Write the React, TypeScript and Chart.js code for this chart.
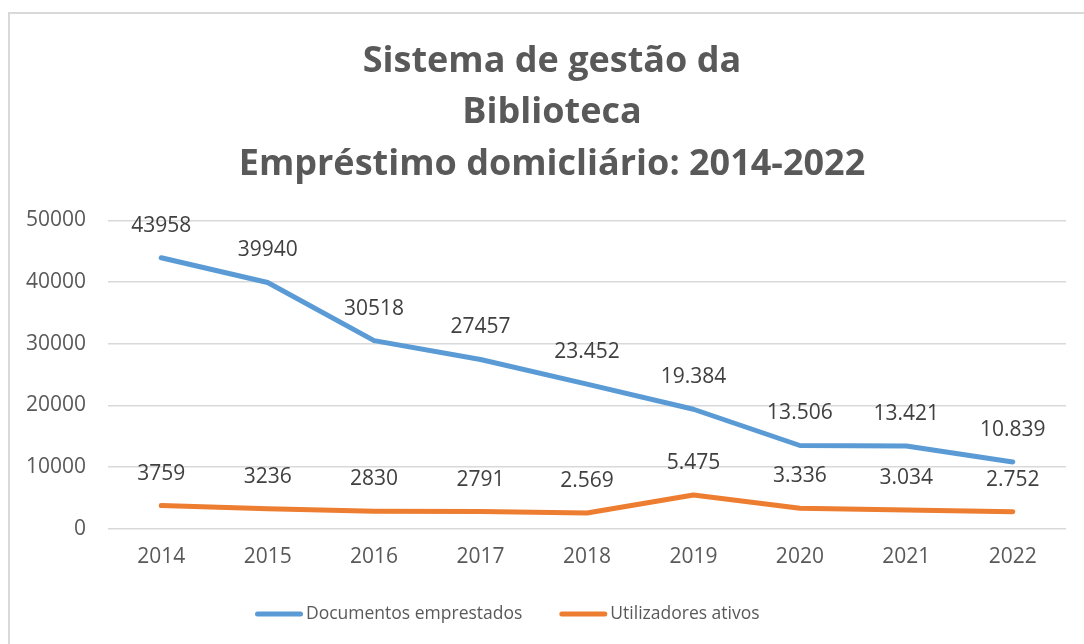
import React, { useEffect, useRef } from "react";
import { Chart, registerables } from "chart.js";

Chart.register(...registerables);

const years = ["2014", "2015", "2016", "2017", "2018", "2019", "2020", "2021", "2022"];
const documentos = [43958, 39940, 30518, 27457, 23452, 19384, 13506, 13421, 10839];
const documentosLabels = ["43958", "39940", "30518", "27457", "23.452", "19.384", "13.506", "13.421", "10.839"];
const utilizadores = [3759, 3236, 2830, 2791, 2569, 5475, 3336, 3034, 2752];
const utilizadoresLabels = ["3759", "3236", "2830", "2791", "2.569", "5.475", "3.336", "3.034", "2.752"];
const titleLines = ["Sistema de gestão da", "Biblioteca", "Empréstimo domicliário: 2014-2022"];

const FONT = "'Open Sans', sans-serif";
const TEXT = "#595959";

const labelPlugin = {
  id: "pointLabels",
  afterDatasetsDraw(chart: any) {
    const ctx = chart.ctx;
    ctx.save();
    ctx.font = `21px ${FONT}`;
    ctx.fillStyle = "#404040";
    ctx.textAlign = "center";
    ctx.textBaseline = "middle";
    chart.data.datasets.forEach((ds: any, i: number) => {
      const meta = chart.getDatasetMeta(i);
      meta.data.forEach((pt: any, j: number) => {
        ctx.fillText(ds.valueLabels[j], pt.x, pt.y - 32);
      });
    });
    ctx.restore();
  },
};

const titleShiftPlugin = {
  id: "titleShift",
  afterLayout(chart: any) {
    const t = chart.titleBlock;
    if (t) {
      t.left += 14;
      t.right += 14;
    }
  },
};

const legendPlugin = {
  id: "lineLegend",
  afterDraw(chart: any) {
    const ctx = chart.ctx;
    ctx.save();
    ctx.font = `17.5px ${FONT}`;
    ctx.textBaseline = "middle";
    ctx.textAlign = "left";
    let x = 245;
    const y = 600;
    chart.data.datasets.forEach((ds: any) => {
      ctx.strokeStyle = ds.borderColor;
      ctx.lineWidth = 5;
      ctx.lineCap = "round";
      ctx.beginPath();
      ctx.moveTo(x + 2.5, y);
      ctx.lineTo(x + 45.5, y);
      ctx.stroke();
      ctx.fillStyle = TEXT;
      ctx.fillText(ds.label, x + 51, y);
      x = x + 51 + ctx.measureText(ds.label).width + 37;
    });
    ctx.restore();
  },
};

export default function App() {
  const ref = useRef<HTMLCanvasElement>(null);
  useEffect(() => {
    const chart = new Chart(ref.current!, {
      type: "line",
      data: {
        labels: years,
        datasets: [
          {
            label: "Documentos emprestados",
            data: documentos,
            valueLabels: documentosLabels,
            borderColor: "#5b9bd5",
            backgroundColor: "#5b9bd5",
            borderWidth: 5,
            borderCapStyle: "round",
            borderJoinStyle: "round",
            pointRadius: 0,
            tension: 0,
          } as any,
          {
            label: "Utilizadores ativos",
            data: utilizadores,
            valueLabels: utilizadoresLabels,
            borderColor: "#ed7d31",
            backgroundColor: "#ed7d31",
            borderWidth: 5,
            borderCapStyle: "round",
            borderJoinStyle: "round",
            pointRadius: 0,
            tension: 0,
          } as any,
        ],
      },
      options: {
        animation: false,
        responsive: false,
        layout: { padding: { left: 0, right: 18, top: 0, bottom: 58 } },
        plugins: {
          title: {
            display: true,
            text: titleLines,
            color: TEXT,
            font: { family: FONT, size: 36, weight: "bold", lineHeight: 1.43 },
            padding: { top: 22, bottom: 30 },
          },
          legend: { display: false },
          tooltip: { enabled: false },
        },
        scales: {
          x: {
            offset: true,
            grid: { display: false, drawTicks: false },
            border: { display: false },
            ticks: { color: TEXT, font: { family: FONT, size: 21 }, padding: 16 },
          },
          y: {
            min: 0,
            max: 50000,
            afterFit: (s: any) => {
              s.width = 98;
            },
            grid: { color: "#d9d9d9", lineWidth: 1.5, drawTicks: false },
            border: { display: false },
            ticks: {
              stepSize: 10000,
              color: TEXT,
              font: { family: FONT, size: 21 },
              padding: 22,
              callback: (v: any) => String(v),
            },
          },
        },
      },
      plugins: [labelPlugin, titleShiftPlugin, legendPlugin],
    } as any);
    return () => chart.destroy();
  }, []);
  return (
    <div style={{ position: "fixed", inset: 0, overflow: "hidden", background: "#fff" }}>
      <div
        style={{
          position: "absolute",
          left: 8,
          top: 12,
          width: 1100,
          height: 700,
          border: "2px solid #d9d9d9",
          boxSizing: "border-box",
        }}
      >
        <canvas ref={ref} width={1074} height={630} style={{ position: "absolute", left: 0, top: 0 }} />
      </div>
    </div>
  );
}
